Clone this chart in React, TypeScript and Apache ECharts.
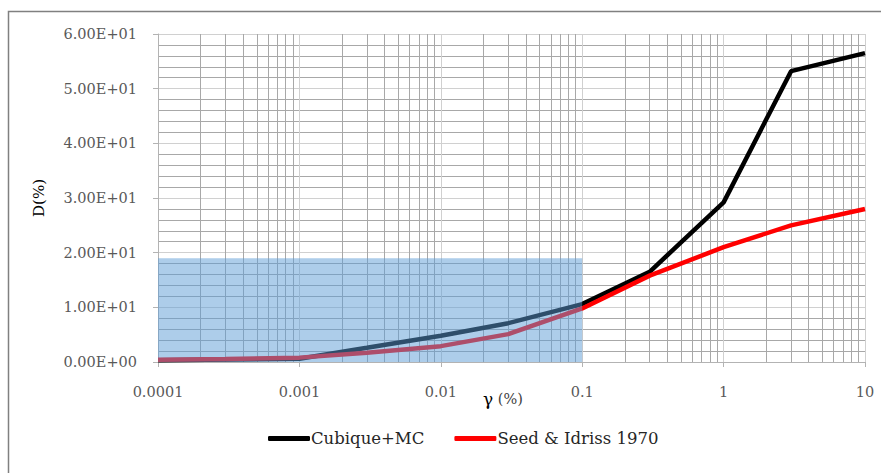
import React, { useEffect, useRef } from "react";
import * as echarts from "echarts";

const cubiqueX = [0.0001, 0.001, 0.003, 0.01, 0.03, 0.1, 0.3, 1, 3, 10];
const cubiqueY = [0.3, 0.6, 2.6, 4.8, 7.1, 10.6, 16.5, 29.2, 53.2, 56.5];
const seedX = [0.0001, 0.0003, 0.001, 0.003, 0.01, 0.03, 0.1, 0.3, 1, 3, 10];
const seedY = [0.4, 0.55, 0.8, 1.7, 2.9, 5.1, 9.8, 15.8, 21.0, 25.0, 28.0];
const seriesNames = ["Cubique+MC", "Seed & Idriss 1970"];
const xTickValues = [0.0001, 0.001, 0.01, 0.1, 1, 10];
const xTickLabels = ["0.0001", "0.001", "0.01", "0.1", "1", "10"];
const yTickValues = [0, 10, 20, 30, 40, 50, 60];
const yTickLabels = ["0.00E+00", "1.00E+01", "2.00E+01", "3.00E+01", "4.00E+01", "5.00E+01", "6.00E+01"];
const boxX = [0.0001, 0.1];
const boxY = [0, 19];
const minorMultipliers = [2, 3, 4, 5, 6, 7, 8, 9];

const FONT = "DejaVu Serif";

export default function App() {
  const ref = useRef<HTMLDivElement>(null);
  useEffect(() => {
    if (!ref.current) return;
    const chart = echarts.init(ref.current, null, { renderer: "svg" });
    const minorX: number[] = [];
    for (let i = 0; i < xTickValues.length - 1; i++) {
      for (const m of minorMultipliers) minorX.push(+(xTickValues[i] * m).toPrecision(3));
    }
    const labelFor = (v: number, vals: number[], labels: string[]) => {
      for (let i = 0; i < vals.length; i++) {
        if (Math.abs(v - vals[i]) <= Math.abs(vals[i]) * 1e-6 + 1e-9) return labels[i];
      }
      return "";
    };
    chart.setOption({
      animation: false,
      backgroundColor: "#ffffff",
      grid: { left: 158, right: 16, top: 34, bottom: 111 },
      graphic: [
        {
          type: "rect",
          shape: { x: 8.5, y: 11.5, width: 1000, height: 1000 },
          style: { fill: "none", stroke: "#808080", lineWidth: 1.5 },
          silent: true,
          z: 0,
        },
        {
          type: "text",
          x: 503,
          y: 399,
          style: {
            text: "{g|γ}{p| (%)}",
            textAlign: "center",
            textVerticalAlign: "middle",
            rich: {
              g: { fontFamily: FONT, fontSize: 17, fill: "#000" },
              p: { fontFamily: FONT, fontSize: 14.5, fill: "#404040" },
            },
          },
        },
      ],
      legend: {
        left: 263,
        top: 425,
        icon: "roundRect",
        itemWidth: 42,
        itemHeight: 5,
        itemGap: 30,
        data: seriesNames,
        textStyle: { fontFamily: FONT, fontSize: 16.5, color: "#262626", padding: [0, 0, 0, -4] },
      },
      xAxis: {
        type: "log",
        logBase: 10,
        min: 0.0001,
        max: 10,
        axisLine: { show: true, lineStyle: { color: "#b3b3b3", width: 1 } },
        axisTick: { show: true, length: 5, lineStyle: { color: "#b3b3b3", width: 1 } },
        axisLabel: {
          fontFamily: FONT,
          fontSize: 14.5,
          color: "#595959",
          margin: 22,
          formatter: (v: number) => labelFor(v, xTickValues, xTickLabels),
        },
        splitLine: { show: true, lineStyle: { color: "#d0d0d0", width: 1 } },
      },
      yAxis: {
        type: "value",
        min: 0,
        max: 60,
        interval: 10,
        name: "D(%)",
        nameLocation: "middle",
        nameGap: 112,
        nameTextStyle: { fontFamily: FONT, fontSize: 15, color: "#000" },
        axisLine: { show: true, lineStyle: { color: "#b3b3b3", width: 1 } },
        axisTick: { show: true, length: 5, lineStyle: { color: "#b3b3b3", width: 1 } },
        axisLabel: {
          fontFamily: FONT,
          fontSize: 14.5,
          color: "#595959",
          margin: 21,
          formatter: (v: number) => labelFor(v, yTickValues, yTickLabels),
        },
        splitLine: { show: true, lineStyle: { color: "#d0d0d0", width: 1 } },
        minorTick: { show: false, splitNumber: 5 },
        minorSplitLine: { show: true, lineStyle: { color: "#a8a8a8", width: 1 } },
      },
      series: [
        {
          type: "line",
          name: "grid-minor-x",
          data: [],
          silent: true,
          z: 1,
          markLine: {
            silent: true,
            precision: 8,
            symbol: ["none", "none"],
            label: { show: false },
            z: 1,
            lineStyle: { type: "solid", color: "#a8a8a8", width: 1 },
            data: minorX.map((v) => ({ xAxis: v })),
          },
        },
        {
          type: "line",
          name: seriesNames[0],
          data: cubiqueX.map((x, i) => [x, cubiqueY[i]]),
          showSymbol: false,
          symbol: "none",
          color: "#000000",
          lineStyle: { color: "#000000", width: 4.5 },
          z: 3,
        },
        {
          type: "line",
          name: seriesNames[1],
          data: seedX.map((x, i) => [x, seedY[i]]),
          showSymbol: false,
          symbol: "none",
          color: "#ff0000",
          lineStyle: { color: "#ff0000", width: 4.5 },
          z: 3,
        },
        {
          type: "line",
          name: "box",
          data: [],
          silent: true,
          z: 6,
          markArea: {
            silent: true,
            precision: 8,
            z: 6,
            itemStyle: { color: "rgba(91,155,213,0.5)" },
            data: [[{ coord: [boxX[0], boxY[0]] }, { coord: [boxX[1], boxY[1]] }]],
          },
        },
      ],
    });
    return () => chart.dispose();
  }, []);
  return (
    <div
      ref={ref}
      style={{ position: "fixed", left: 0, top: 0, width: 881, height: 473, background: "#fff" }}
    />
  );
}
